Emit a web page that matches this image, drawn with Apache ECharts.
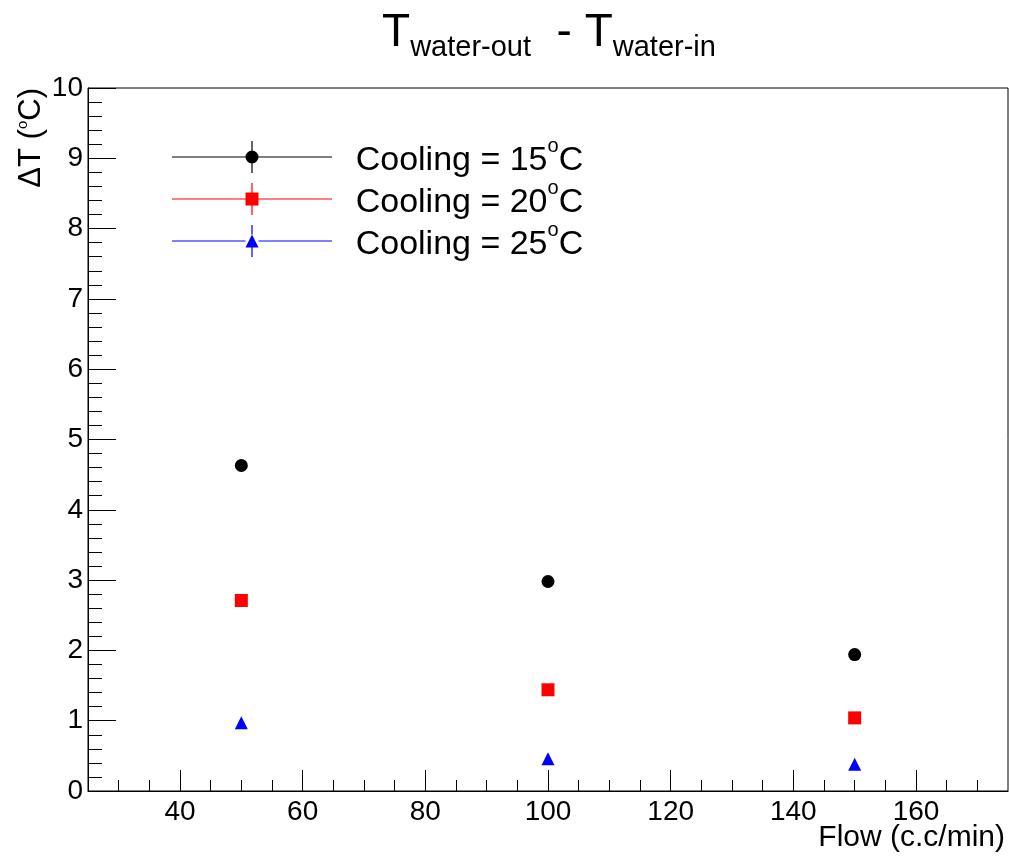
<!DOCTYPE html>
<html>
<head>
<meta charset="utf-8">
<title>Twater-out - Twater-in</title>
<script src="https://cdn.jsdelivr.net/npm/echarts@6/dist/echarts.min.js"></script>
<style>
  html, body { margin: 0; padding: 0; background: #ffffff; }
  #chart { width: 1010px; height: 856px; }
</style>
</head>
<body>
<div id="chart"></div>
<script>
// Flow rates (c.c/min) and temperature rise of the cooling water for each setting
const flow = [50, 100, 150];
const dT15 = [4.63, 2.98, 1.94];
const dT20 = [2.71, 1.44, 1.04];
const dT25 = [0.97, 0.46, 0.38];
const seriesNames = ['Cooling = 15°C', 'Cooling = 20°C', 'Cooling = 25°C'];
const seriesColors = ['#000000', '#ff0000', '#0000ff'];
const xMajorTicks = [40, 60, 80, 100, 120, 140, 160];
const xMinorTicks = [30, 35, 45, 50, 55, 65, 70, 75, 85, 90, 95, 105, 110, 115, 125, 130, 135, 145, 150, 155, 165, 170];

const FONT = '"Liberation Sans", Arial, Helvetica, sans-serif';

// Legend icons: error-bar style line through the marker (160 x 32 box)
const bars = 'M0 15.4 H73.5 V16.6 H0 Z M86.5 15.4 H160 V16.6 H86.5 Z ' +
             'M79.4 0 H80.6 V9.5 H79.4 Z M79.4 22.5 H80.6 V32 H79.4 Z ';
const iconCircle = 'path://' + bars + 'M73.5 16 A6.5 6.5 0 1 1 86.5 16 A6.5 6.5 0 1 1 73.5 16 Z';
const iconSquare = 'path://' + bars + 'M73.5 9.5 H86.5 V22.5 H73.5 Z';
const iconTriangle = 'path://' + bars + 'M80 9.5 L86.5 22.5 L73.5 22.5 Z';
const icons = [iconCircle, iconSquare, iconTriangle];
const symbols = ['circle', 'rect', 'triangle'];
const values = [dT15, dT20, dT25];

// Legend label: "Cooling = 15°C" drawn with a raised small "o" for the degree mark.
// A leading tall blank token sets the line box so the "o" can sit at its top.
function legendLabel(name) {
  const parts = name.split('°');
  return '{pad| }{b|' + parts[0] + '}{sup|o}{b|' + parts[1] + '}';
}

const chart = echarts.init(document.getElementById('chart'), null, { renderer: 'canvas' });

const option = {
  backgroundColor: '#ffffff',
  animation: false,
  title: {
    text: '{t|T}{s|water-out}{t|  - T}{s|water-in}',
    left: 549,
    top: 4,
    textAlign: 'center',
    padding: 0,
    textStyle: {
      fontFamily: FONT,
      fontWeight: 'normal',
      color: '#000',
      rich: {
        t: { fontFamily: FONT, fontSize: 46, lineHeight: 58, color: '#000' },
        s: { fontFamily: FONT, fontSize: 29, lineHeight: 29, verticalAlign: 'bottom', color: '#000' }
      }
    }
  },
  legend: {
    orient: 'vertical',
    left: 172,
    top: 136,
    padding: 0,
    itemWidth: 160,
    itemHeight: 32,
    itemGap: 0,
    selectedMode: false,
    data: seriesNames.map((n, i) => ({ name: n, icon: icons[i] })),
    formatter: legendLabel,
    textStyle: {
      fontFamily: FONT,
      fontSize: 34,
      color: '#000',
      padding: [0, 0, 0, 7],
      rich: {
        pad: { fontFamily: FONT, fontSize: 42, verticalAlign: 'bottom', color: 'rgba(0,0,0,0)' },
        b: { fontFamily: FONT, fontSize: 34, verticalAlign: 'bottom', color: '#000' },
        sup: { fontFamily: FONT, fontSize: 20, verticalAlign: 'top', color: '#000' }
      }
    }
  },
  grid: {
    left: 88,
    top: 88,
    right: 2,
    bottom: 65,
    show: true,
    borderColor: '#000',
    borderWidth: 1,
    backgroundColor: 'transparent'
  },
  xAxis: [
    {
      type: 'value',
      min: 25,
      max: 175,
      position: 'bottom',
      axisLine: { show: true, onZero: false, lineStyle: { color: '#000', width: 1 } },
      axisTick: { show: true, inside: true, length: 21, customValues: xMajorTicks, lineStyle: { color: '#000' } },
      axisLabel: { show: true, customValues: xMajorTicks, margin: 7, fontFamily: FONT, fontSize: 28, color: '#000' },
      splitLine: { show: false }
    },
    {
      type: 'value',
      min: 25,
      max: 175,
      position: 'bottom',
      offset: 0,
      axisLine: { show: false },
      axisTick: { show: true, inside: true, length: 11, customValues: xMinorTicks, lineStyle: { color: '#000' } },
      axisLabel: { show: false },
      splitLine: { show: false }
    }
  ],
  yAxis: {
    type: 'value',
    min: 0,
    max: 10,
    interval: 1,
    axisLine: { show: true, onZero: false, lineStyle: { color: '#000', width: 1 } },
    axisTick: { show: true, inside: true, length: 28, lineStyle: { color: '#000' } },
    minorTick: { show: true, splitNumber: 5, length: 14, lineStyle: { color: '#000' } },
    axisLabel: { margin: 5, fontFamily: FONT, fontSize: 28, color: '#000' },
    splitLine: { show: false }
  },
  graphic: [
    {
      type: 'text',
      x: 31,
      y: 88,
      rotation: Math.PI / 2,
      style: {
        text: 'ΔT ({sup|o}C)',
        fontFamily: FONT,
        fontSize: 31,
        lineHeight: 32,
        fill: '#000',
        align: 'right',
        verticalAlign: 'middle',
        rich: {
          sup: { fontFamily: FONT, fontSize: 15, lineHeight: 7, verticalAlign: 'top', fill: '#000' }
        }
      }
    },
    {
      type: 'text',
      x: 1005,
      y: 838,
      style: {
        text: 'Flow (c.c/min)',
        fontFamily: FONT,
        fontSize: 30,
        fill: '#000',
        align: 'right',
        verticalAlign: 'middle'
      }
    }
  ],
  series: seriesNames.map((n, i) => ({
    name: n,
    type: 'scatter',
    xAxisIndex: 0,
    yAxisIndex: 0,
    symbol: symbols[i],
    symbolSize: 13,
    itemStyle: { color: seriesColors[i], opacity: 1 },
    emphasis: { disabled: true },
    data: flow.map((x, j) => [x, values[i][j]])
  }))
};

chart.setOption(option);
</script>
</body>
</html>
